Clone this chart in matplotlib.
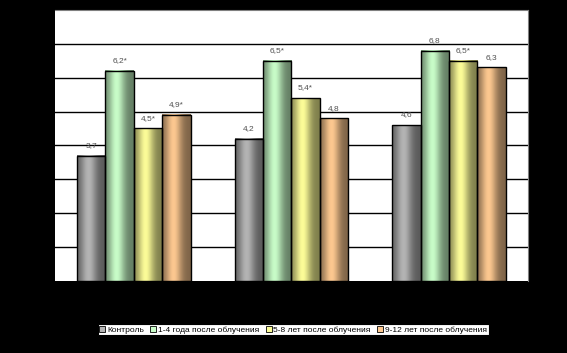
import numpy as np
import matplotlib.pyplot as plt
from matplotlib.patches import Patch
from matplotlib.colors import to_rgb

plt.rcParams['font.family'] = ['Liberation Sans', 'DejaVu Sans']

groups = ['1', '2', '3']  # group names are not visible (black on black)
series = ['Контроль', '1-4 года после облучения', '5-8 лет после облучения', '9-12 лет после облучения']
values = [
    [3.7, 4.2, 4.6],
    [6.2, 6.5, 6.8],
    [4.5, 5.4, 6.5],
    [4.9, 4.8, 6.3],
]
labels = [
    ['3,7', '4,2', '4,6'],
    ['6,2*', '6,5*', '6,8'],
    ['4,5*', '5,4*', '6,5*'],
    ['4,9*', '4,8', '6,3'],
]
colors = ['#b4b4b4', '#c8fcc8', '#fcfc98', '#fcc890']

fig = plt.figure(figsize=(5.67, 3.53), dpi=100, facecolor='black')
ax = fig.add_axes([0.097, 0.204, 0.834, 0.768])
ax.set_facecolor('white')

# cylinder-like shading across each bar
t = np.linspace(0, 1, 60)
shade = 0.5 + 0.5 * np.exp(-((t - 0.4) / 0.28) ** 2)

w = 0.18
x = np.arange(len(groups))
for i, s in enumerate(series):
    pos = x + (i - 1.5) * w
    bars = ax.bar(pos, values[i], w, facecolor='none', edgecolor='black', linewidth=1, zorder=4)
    base = np.array(to_rgb(colors[i]))
    img = (shade[:, None] * base[None, :])[None, :, :]
    for b, lab in zip(bars, labels[i]):
        x0, h = b.get_x(), b.get_height()
        ax.imshow(img, extent=[x0, x0 + w, 0, h], aspect='auto', zorder=3, interpolation='bilinear')
        ax.text(x0 + w / 2, h + 0.2, lab, ha='center', va='bottom', fontsize=6, color='#505050', zorder=5)

ax.set_xlim(-0.5, 2.5)
ax.set_ylim(0, 8)
ax.set_yticks(range(1, 8))
ax.yaxis.grid(True, color='black', linewidth=1)
ax.set_axisbelow(True)
ax.tick_params(length=0, labelcolor='black', labelsize=6)
ax.set_xticks(x)
ax.set_xticklabels(groups)
for sp in ['top', 'right']:
    ax.spines[sp].set_color('#808080')
for sp in ['left', 'bottom']:
    ax.spines[sp].set_visible(False)

handles = [Patch(facecolor=c, edgecolor='black', linewidth=0.6) for c in colors]
leg = fig.legend(handles, series, loc='center', bbox_to_anchor=(0.517, 0.066), ncol=4,
                 fontsize=6, handlelength=0.7, handleheight=0.7, handletextpad=0.2,
                 columnspacing=0.8, borderpad=0.2, fancybox=False, framealpha=1)
leg.get_frame().set_edgecolor('black')
leg.get_frame().set_linewidth(0.8)

fig.savefig('out.png', dpi=100, facecolor='black')
